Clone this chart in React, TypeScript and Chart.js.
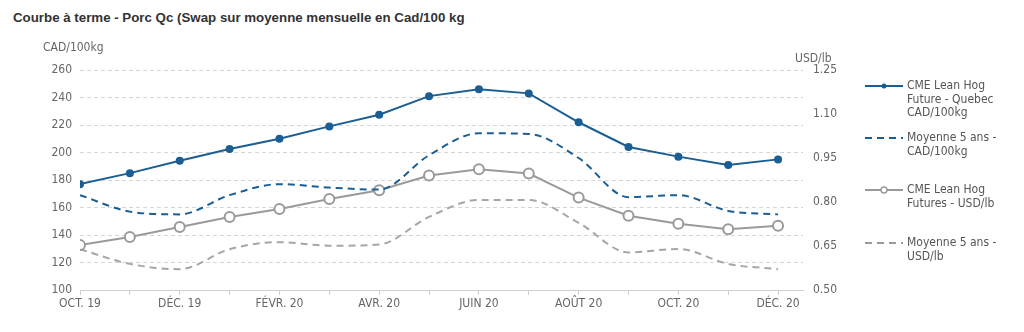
import React, { useEffect, useRef } from "react";
import { Chart, registerables } from "chart.js";

Chart.register(...registerables);

const months = [
  "OCT. 19", "NOV. 19", "DÉC. 19", "JANV. 20", "FÉVR. 20", "MARS 20", "AVR. 20",
  "MAI 20", "JUIN 20", "JUIL. 20", "AOÛT 20", "SEPT. 20", "OCT. 20", "NOV. 20", "DÉC. 20",
];

const quebecCad = [177, 185, 194, 202.5, 210, 219, 227.5, 241, 246, 243, 222, 204, 197, 191, 195];
const avgCad = [169, 157, 155, 169, 177, 174.5, 173, 198, 214, 213.5, 196, 167.5, 169, 157.5, 155];
const hogUsd = [0.653, 0.681, 0.715, 0.749, 0.776, 0.81, 0.84, 0.89, 0.912, 0.897, 0.815, 0.753, 0.726, 0.707, 0.719];
const avgUsd = [0.639, 0.589, 0.571, 0.639, 0.663, 0.651, 0.655, 0.749, 0.807, 0.807, 0.729, 0.628, 0.64, 0.589, 0.571];

const leftTicks = { min: 100, max: 260, step: 20 };
const rightTicks = { min: 0.5, max: 1.25, step: 0.15 };

const seriesNames = [
  ["CME Lean Hog", "Future - Quebec", "CAD/100kg"],
  ["Moyenne 5 ans -", "CAD/100kg"],
  ["CME Lean Hog", "Futures - USD/lb"],
  ["Moyenne 5 ans -", "USD/lb"],
];

const BLUE = "#1b5e93";
const GREY = "#9a9a9a";
const GREY_D = "#a6a6a6";
const FONT = "'DejaVu Sans Condensed', 'DejaVu Sans', sans-serif";

const toXY = (arr: number[]) => arr.map((v, i) => ({ x: i, y: v }));

const axisTitles = {
  id: "axisTitles",
  afterDraw(chart: any) {
    const { ctx, chartArea } = chart;
    ctx.save();
    ctx.fillStyle = "#666";
    ctx.font = `12px ${FONT}`;
    ctx.textBaseline = "middle";
    ctx.textAlign = "left";
    ctx.fillText("CAD/100kg", chartArea.left - 37, chartArea.top - 22);
    ctx.fillText("USD/lb", chartArea.right - 8, chartArea.top - 11);
    ctx.restore();
  },
};

function LegendSymbol({ idx }: { idx: number }) {
  const color = idx < 2 ? BLUE : GREY;
  const dashed = idx === 1 || idx === 3;
  return (
    <svg width="40" height="10" style={{ position: "absolute", left: 0, top: 2 }}>
      <line
        x1="0" y1="5" x2="38" y2="5"
        stroke={color}
        strokeWidth={2}
        strokeDasharray={dashed ? "7 5" : undefined}
      />
      {idx === 0 && <circle cx="19" cy="5" r="2.5" fill={BLUE} />}
      {idx === 2 && <circle cx="19" cy="5" r="3" fill="#fff" stroke={GREY} strokeWidth={1.5} />}
    </svg>
  );
}

export default function App() {
  const ref = useRef<HTMLCanvasElement>(null);

  useEffect(() => {
    if (!ref.current) return;
    const chart = new Chart(ref.current, {
      type: "line",
      data: {
        datasets: [
          {
            label: seriesNames[0].join(" "),
            data: toXY(quebecCad),
            yAxisID: "y",
            borderColor: BLUE,
            backgroundColor: BLUE,
            borderWidth: 2,
            pointRadius: 4,
            pointBackgroundColor: BLUE,
            pointBorderColor: BLUE,
            pointBorderWidth: 0,
            tension: 0,
          },
          {
            label: seriesNames[1].join(" "),
            data: toXY(avgCad),
            yAxisID: "y",
            borderColor: BLUE,
            borderWidth: 2,
            borderDash: [7, 5],
            pointRadius: 0,
            cubicInterpolationMode: "monotone",
          },
          {
            label: seriesNames[2].join(" "),
            data: toXY(hogUsd),
            yAxisID: "y1",
            borderColor: GREY,
            borderWidth: 2,
            pointRadius: 5,
            pointBackgroundColor: "#fff",
            pointBorderColor: GREY,
            pointBorderWidth: 2,
            tension: 0,
          },
          {
            label: seriesNames[3].join(" "),
            data: toXY(avgUsd),
            yAxisID: "y1",
            borderColor: GREY_D,
            borderWidth: 2,
            borderDash: [7, 5],
            pointRadius: 0,
            cubicInterpolationMode: "monotone",
          },
        ],
      },
      options: {
        animation: false,
        responsive: true,
        maintainAspectRatio: false,
        layout: { padding: { top: 62, left: 0, right: 0, bottom: 0 } },
        plugins: { legend: { display: false }, tooltip: { enabled: false } },
        scales: {
          x: {
            type: "linear",
            min: 0,
            max: months.length - 0.5,
            afterFit: (s: any) => { s.height = 34; },
            ticks: {
              stepSize: 1,
              autoSkip: false,
              maxRotation: 0,
              includeBounds: false,
              padding: 2,
              color: "#666",
              font: { size: 12, family: FONT },
              callback: (v: any) => (Number.isInteger(v) && v % 2 === 0 ? months[v] : ""),
            },
            grid: { drawOnChartArea: false, drawTicks: true, tickLength: 5, tickColor: "#cfcfcf" },
            border: { display: true, color: "#cfcfcf", width: 1 },
          },
          y: {
            position: "left",
            min: leftTicks.min,
            max: leftTicks.max,
            afterFit: (s: any) => { s.width = 72; },
            ticks: { stepSize: leftTicks.step, padding: 8, color: "#666", font: { size: 12, family: FONT } },
            grid: { color: "#d6d6d6", drawTicks: false },
            border: { display: false, dash: [4, 3] },
          },
          y1: {
            position: "right",
            min: rightTicks.min,
            max: rightTicks.max,
            afterFit: (s: any) => { s.width = 213; },
            ticks: {
              stepSize: rightTicks.step,
              padding: 10,
              color: "#666",
              font: { size: 12, family: FONT },
              callback: (v: any) => Number(v).toFixed(2),
            },
            grid: { display: false, drawTicks: false },
            border: { display: false },
          },
        },
      },
      plugins: [axisTitles],
    });
    return () => chart.destroy();
  }, []);

  const legendTops = [71, 123, 175, 228];

  return (
    <div style={{ position: "relative", width: 1008, height: 316, fontFamily: FONT }}>
      <div
        style={{
          position: "absolute", left: 5, top: 2, fontFamily: "'Liberation Sans', Arial, sans-serif",
          fontWeight: "bold", fontSize: 13.3, color: "#333", whiteSpace: "nowrap",
        }}
      >
        Courbe à terme - Porc Qc (Swap sur moyenne mensuelle en Cad/100 kg
      </div>
      <div style={{ position: "absolute", left: 0, top: 0, width: 1008, height: 316 }}>
        <canvas ref={ref} />
      </div>
      {seriesNames.map((lines, i) => (
        <div key={i} style={{ position: "absolute", left: 857, top: legendTops[i], width: 150 }}>
          <LegendSymbol idx={i} />
          <div style={{ marginLeft: 42, fontSize: 12, lineHeight: "13.5px", color: "#555" }}>
            {lines.map((l, j) => (
              <div key={j}>{l}</div>
            ))}
          </div>
        </div>
      ))}
    </div>
  );
}
